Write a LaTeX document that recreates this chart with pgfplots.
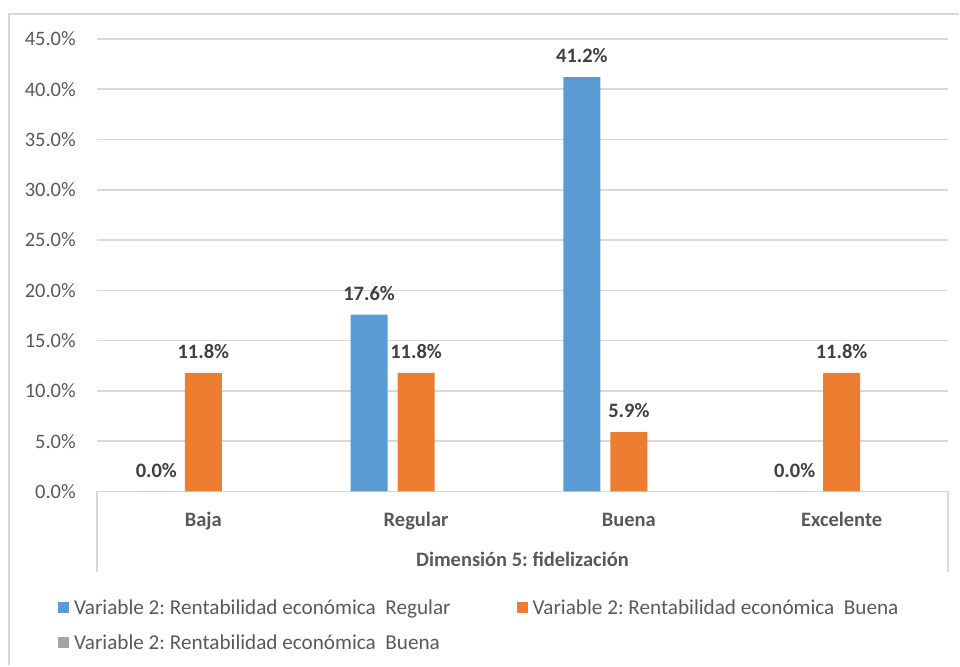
\documentclass[border=0pt]{standalone}
\usepackage{fontspec}
\setmainfont{Carlito}
\usepackage{pgfplots}
\pgfplotsset{compat=1.18}
\frenchspacing
\definecolor{cblue}{HTML}{5B9BD5}
\definecolor{corange}{HTML}{ED7D31}
\definecolor{cgray}{HTML}{A5A5A5}
\definecolor{gridc}{HTML}{D9D9D9}
\definecolor{txt}{HTML}{595959}
\definecolor{lbl}{HTML}{404040}
\pgfplotsset{mylegend/.style={legend image code/.code={\fill[##1] (0pt,-5.5pt) rectangle (11pt,5.5pt); \path (14pt,0pt);}}}
\begin{document}
\begin{tikzpicture}[x=1pt,y=1pt]
\path (0,0) rectangle (960,666);
\draw[gridc, line width=2pt] (9,0) -- (9,652) -- (960,652);
\begin{axis}[name=ax,
  at={(97pt,174pt)}, anchor=south west,
  scale only axis, width=852pt, height=453pt,
  xmin=-0.5, xmax=3.5, ymin=0, ymax=45,
  ytick={0,5,...,45},
  xtick={0,1,2,3}, xticklabels={Baja,Regular,Buena,Excelente},
  ybar, bar width=37pt,
  axis x line*=bottom, axis y line*=left,
  x axis line style={draw=gridc, line width=1.5pt},
  y axis line style={draw=none},
  major tick length=0pt,
  ymajorgrids, grid style={gridc, line width=1.5pt},
  /pgf/number format/assume math mode=true,
  yticklabel={\pgfmathprintnumber[fixed,fixed zerofill,precision=1]{\tick}\%},
  yticklabel style={font=\fontsize{20.5}{24}\selectfont, text=txt, anchor=east, inner sep=0pt, xshift=-21pt},
  xticklabel style={font=\bfseries\fontsize{20.5}{24}\selectfont, text=txt, anchor=base, inner sep=0pt, yshift=-35pt},
  xlabel={Dimensión 5: fidelización},
  xlabel style={at={(axis description cs:0.5,0)}, anchor=base, inner sep=0pt, yshift=-75pt, font=\bfseries\fontsize{20.5}{24}\selectfont, text=txt},
  nodes near coords={\pgfmathprintnumber[fixed,fixed zerofill,precision=1]{\pgfplotspointmeta}\%},
  nodes near coords style={font=\bfseries\fontsize{20.5}{24}\selectfont, text=lbl, anchor=south, inner sep=0pt, yshift=14pt},
  legend columns=2,
  legend cell align=left,
  legend style={at={(axis description cs:-0.0458,-0.234)}, anchor=north west, draw=none, fill=none,
    font=\fontsize{21.2}{24}\selectfont, text=txt, inner sep=0pt, row sep=15pt},
]
\addplot[fill=cblue, draw=none, bar shift=-47pt, mylegend] coordinates {(0,0) (1,17.6) (2,41.2) (3,0)};
\addlegendentry{\makebox[441pt][l]{Variable 2: Rentabilidad económica~~Regular}}
\addplot[fill=corange, draw=none, bar shift=0pt, mylegend] coordinates {(0,11.8) (1,11.8) (2,5.9) (3,11.8)};
\addlegendentry{Variable 2: Rentabilidad económica~~Buena}
\addlegendimage{mylegend, fill=cgray, draw=none}
\addlegendentry{Variable 2: Rentabilidad económica~~Buena}
\end{axis}
\draw[gridc, line width=1.5pt] (ax.south west) -- ++(0,-81);
\draw[gridc, line width=1.5pt] (ax.south east) -- ++(0,-81);
\end{tikzpicture}
\end{document}
